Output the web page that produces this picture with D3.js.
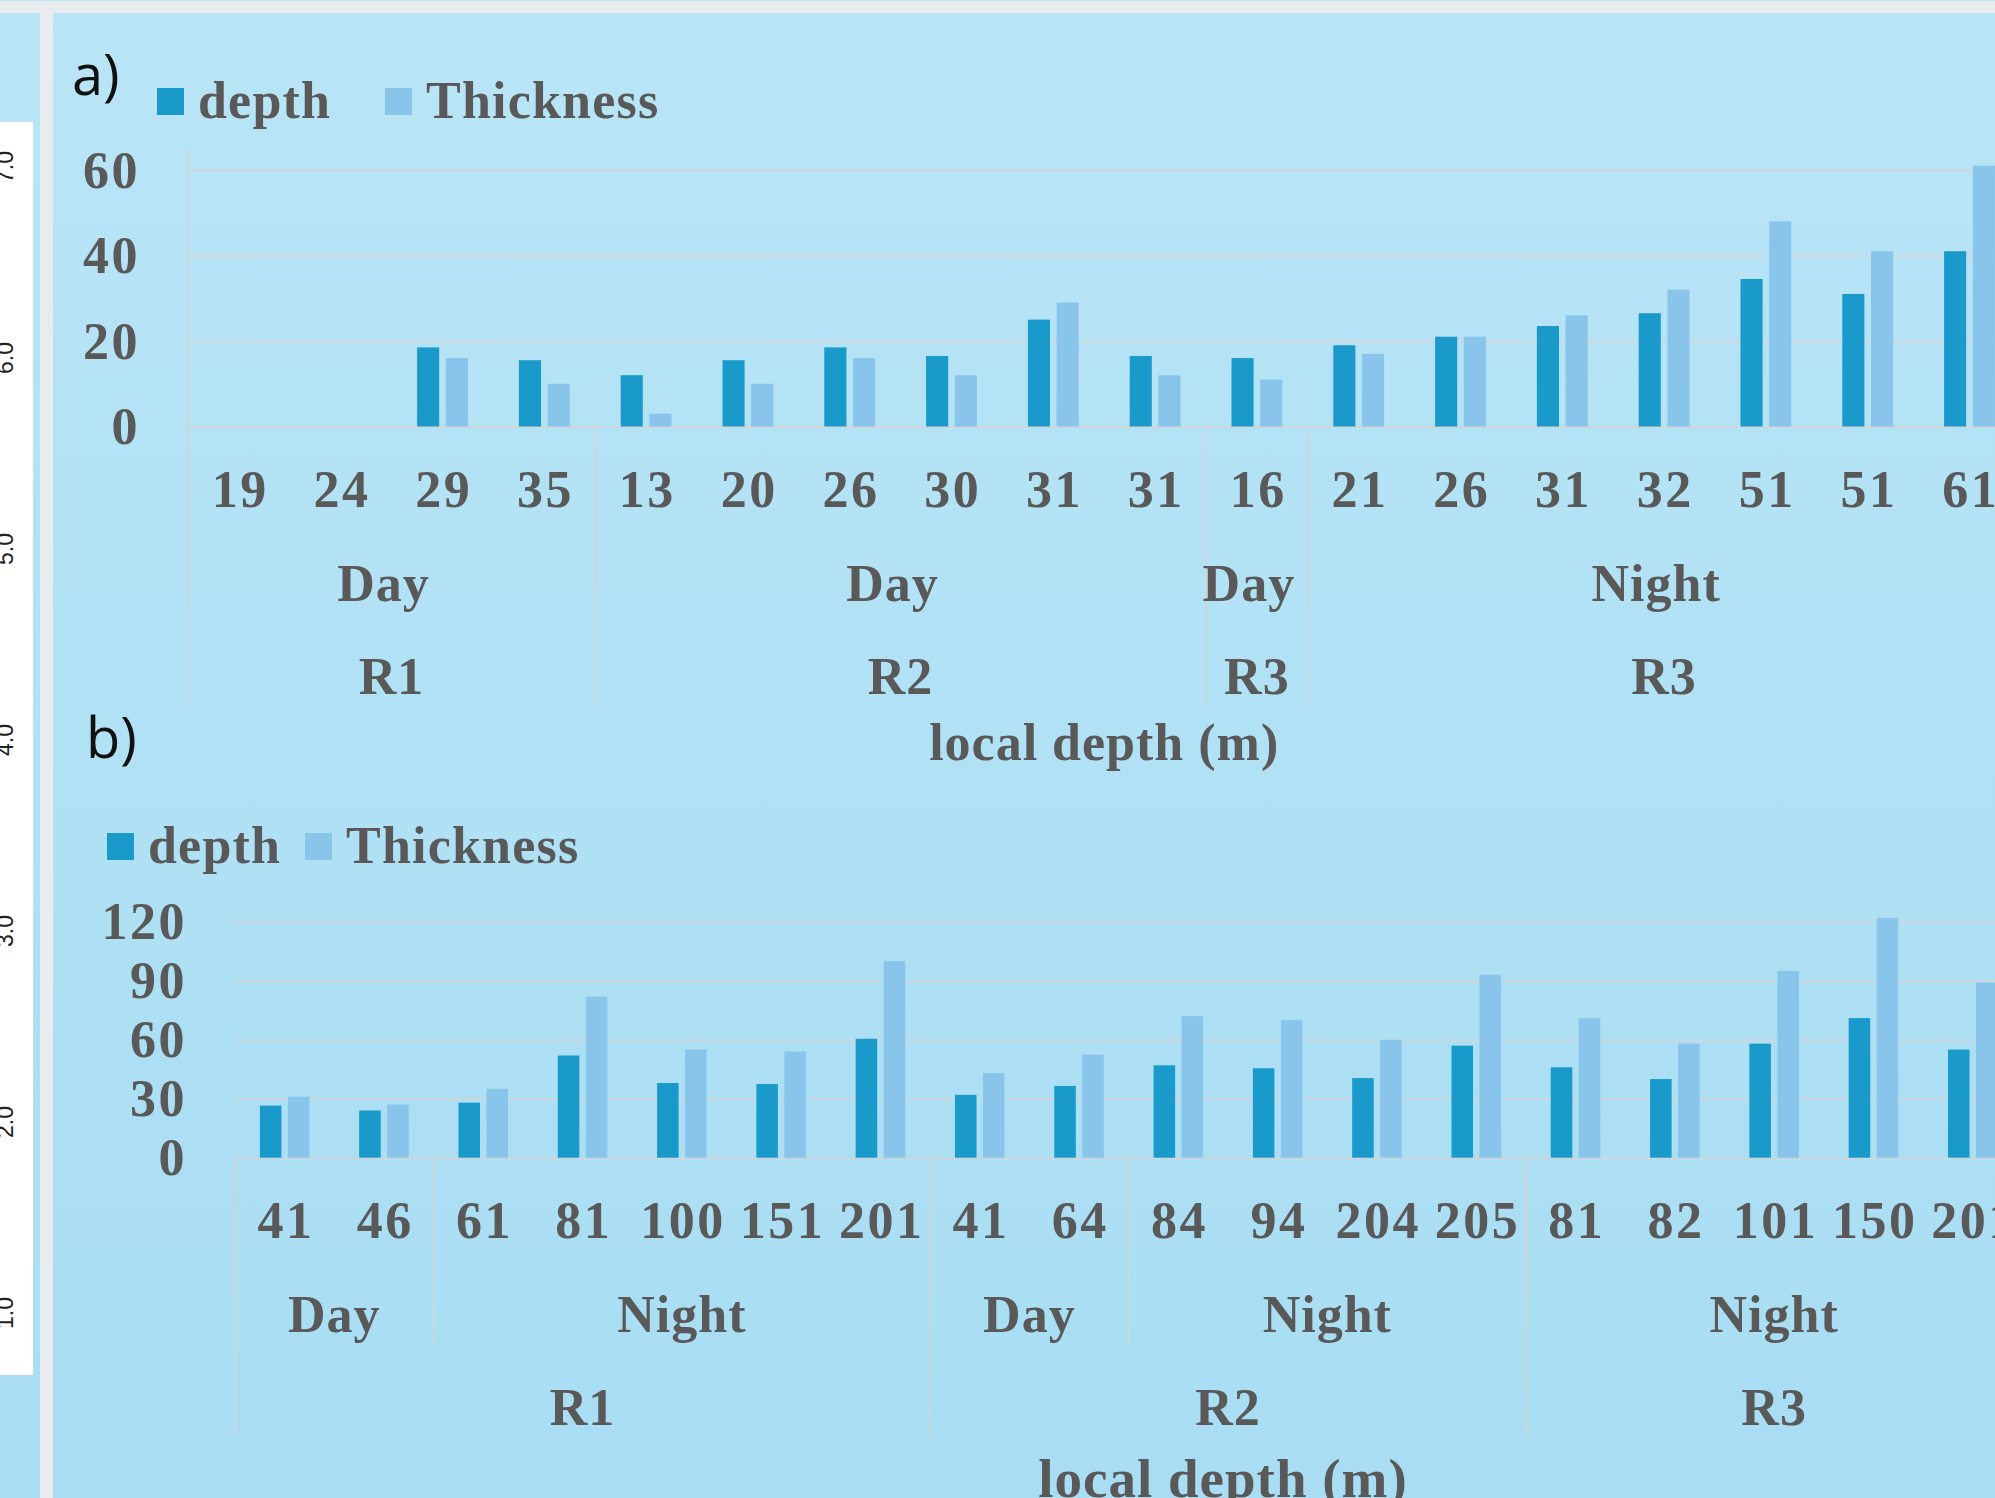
<!DOCTYPE html>
<html>
<head>
<meta charset="utf-8">
<script src="https://cdn.jsdelivr.net/npm/d3@7"></script>
<style>
  html, body { margin: 0; padding: 0; overflow: hidden; background: #b9e5f5; }
  svg { display: block; }
</style>
</head>
<body>
<svg id="fig" width="1995" height="1498"></svg>
<script>
// ---------- data: panel a ----------
const aLabels = ["19","24","29","35","13","20","26","30","31","31","16","21","26","31","32","51","51","61"];
const aDepth = [null,null,18.5,15.5,12,15.5,18.5,16.5,25,16.5,16,19,21,23.5,26.5,34.5,31,41];
const aThickness = [null,null,16,10,3,10,16,12,29,12,11,17,21,26,32,48,41,61];
const aPeriods = ["Day","Day","Day","Night"];
const aPeriodSpans = [4,6,1,7];
const aRegions = ["R1","R2","R3","R3"];
const aRegionSpans = [4,6,1,7];
const aYTicks = [0,20,40,60];

// ---------- data: panel b ----------
const bLabels = ["41","46","61","81","100","151","201","41","64","84","94","204","205","81","82","101","150","201"];
const bDepth = [26.5,24,28,52,38,37.5,60.5,32,36.5,47,45.5,40.5,57,46,40,58,71,55];
const bThickness = [31,27,35,82,55,54,100,43,52.5,72,70,60,93,71,58,95,122,89];
const bPeriods = ["Day","Night","Day","Night","Night"];
const bPeriodSpans = [2,5,2,4,5];
const bRegions = ["R1","R2","R3"];
const bRegionSpans = [7,6,5];
const bYTicks = [0,30,60,90,120];

// ---------- data: neighbouring axis strip ----------
const stripTicks = ["7.0","6.0","5.0","4.0","3.0","2.0","1.0"];

const seriesNames = ["depth","Thickness"];
const seriesColors = ["#1a9acb","#89c4ea"];

const W = 1995, H = 1498;
const svg = d3.select("#fig");
const textColor = "#595959";
const lineColor = "#cdd6da";
const serif = "'Liberation Serif', 'Times New Roman', serif";

// background
const defs = svg.append("defs");
const grad = defs.append("linearGradient").attr("id","bg").attr("x1",0).attr("y1",0).attr("x2",0).attr("y2",1);
grad.append("stop").attr("offset","0%").attr("stop-color","#b9e5f6");
grad.append("stop").attr("offset","100%").attr("stop-color","#a8ddf3");
svg.append("rect").attr("width",W).attr("height",H).attr("fill","url(#bg)");

// frame: top band and left divider
svg.append("rect").attr("x",0).attr("y",1).attr("width",W).attr("height",12).attr("fill","#e9ecee");
svg.append("rect").attr("x",40).attr("y",1).attr("width",13).attr("height",H).attr("fill","#e9ecee");

// white strip with rotated tick labels of the neighbouring chart
svg.append("rect").attr("x",0).attr("y",122).attr("width",33).attr("height",1253).attr("fill","#ffffff");
const stripY = d3.scaleLinear().domain([7,1]).range([167,1313]);
svg.append("g").selectAll("text").data(stripTicks).join("text")
  .attr("transform", d => `translate(13,${stripY(+d)}) rotate(-90)`)
  .attr("text-anchor","middle")
  .attr("font-family","'Liberation Sans', Arial, sans-serif")
  .attr("font-size",23)
  .attr("fill","#222")
  .text(d => d);

function spansToGroups(names, spans) {
  let start = 0;
  return names.map((n, k) => { const g = {name: n, start, n: spans[k]}; start += spans[k]; return g; });
}

function drawPanel(cfg) {
  const g = svg.append("g");
  const n = cfg.labels.length;
  const x = d3.scaleBand().domain(d3.range(n)).range([cfg.left, cfg.left + cfg.band * n]).padding(0);
  const y = d3.scaleLinear().domain([0, cfg.yMax]).range([cfg.base, cfg.top]);
  const bw = x.bandwidth();
  const barW = bw * 0.217, gap = bw * 0.065;
  const sub = d3.scaleOrdinal().domain(seriesNames).range([bw/2 - gap/2 - barW, bw/2 + gap/2]);
  const plotW = cfg.band * n;

  // gridlines + value labels
  const yAxis = d3.axisLeft(y).tickValues(cfg.yTicks).tickSize(-plotW).tickPadding(48).tickFormat(d3.format("d"));
  const ax = g.append("g").attr("transform", `translate(${cfg.left},0)`).call(yAxis);
  ax.select(".domain").remove();
  ax.selectAll(".tick line").attr("stroke", lineColor).attr("stroke-width", 2);
  ax.selectAll(".tick text")
    .attr("font-family", serif).attr("font-weight","bold").attr("font-size",52)
    .attr("letter-spacing", 2.5).attr("fill", textColor).attr("dy","0.33em");

  // bars
  const series = [cfg.depth, cfg.thickness];
  series.forEach((vals, s) => {
    g.append("g").selectAll("rect")
      .data(vals.map((v, i) => ({i, v})).filter(d => d.v != null))
      .join("rect")
      .attr("x", d => x(d.i) + sub(seriesNames[s]))
      .attr("width", barW)
      .attr("y", d => y(d.v))
      .attr("height", d => y(0) - y(d.v))
      .attr("fill", seriesColors[s]);
  });

  // category axis: left line
  g.append("line").attr("x1",cfg.left).attr("x2",cfg.left)
    .attr("y1",cfg.axisTop).attr("y2",cfg.longSepEnd)
    .attr("stroke",lineColor).attr("stroke-width",2);

  // level 0 labels
  g.append("g").selectAll("text").data(cfg.labels).join("text")
    .attr("x", (d, i) => x(i) + bw/2 + 1.25)
    .attr("y", cfg.level0)
    .attr("text-anchor","middle")
    .attr("font-family", serif).attr("font-weight","bold").attr("font-size",52)
    .attr("letter-spacing", 2.5).attr("fill", textColor)
    .text(d => d);

  const periods = spansToGroups(cfg.periods, cfg.periodSpans);
  const regions = spansToGroups(cfg.regions, cfg.regionSpans);
  const regionStarts = new Set(regions.map(r => r.start));

  // separators
  periods.filter(p => p.start > 0).forEach(p => {
    const xx = x(p.start);
    g.append("line").attr("x1",xx).attr("x2",xx).attr("y1",cfg.base)
      .attr("y2", regionStarts.has(p.start) ? cfg.longSepEnd : cfg.shortSepEnd)
      .attr("stroke",lineColor).attr("stroke-width",2);
  });

  const groupLabel = (data, baseline, dx) => g.append("g").selectAll("text").data(data).join("text")
    .attr("x", d => x(d.start) + d.n * bw / 2 + dx)
    .attr("y", baseline)
    .attr("text-anchor","middle")
    .attr("font-family", serif).attr("font-weight","bold").attr("font-size",52)
    .attr("letter-spacing", 1).attr("fill", textColor)
    .text(d => d.name);
  groupLabel(periods, cfg.level1, cfg.level1Shift);
  groupLabel(regions, cfg.level2, 0);

  // axis title
  g.append("text")
    .attr("x", cfg.titleX != null ? cfg.titleX : cfg.left + plotW / 2)
    .attr("y", cfg.titleY)
    .attr("text-anchor","middle")
    .attr("font-family", serif).attr("font-weight","bold").attr("font-size",cfg.titleSize)
    .attr("letter-spacing", 1).attr("fill", textColor)
    .text("local depth (m)");

  // panel tag
  g.append("text").attr("x", cfg.tagX).attr("y", cfg.tagY)
    .attr("font-family","'Open Sans', 'Noto Sans', sans-serif").attr("font-size",56)
    .attr("fill","#111").text(cfg.tag);

  // legend
  const leg = g.append("g");
  seriesNames.forEach((name, s) => {
    leg.append("rect").attr("x", cfg.legendX[s]).attr("y", cfg.legendY)
      .attr("width", 27).attr("height", 27).attr("fill", seriesColors[s]);
    leg.append("text").attr("x", cfg.legendX[s] + 41).attr("y", cfg.legendY + 30)
      .attr("font-family", serif).attr("font-weight","bold").attr("font-size",52)
      .attr("letter-spacing", 1.2).attr("fill", textColor).text(name);
  });
}

drawPanel({
  labels: aLabels, depth: aDepth, thickness: aThickness,
  periods: aPeriods, periodSpans: aPeriodSpans, regions: aRegions, regionSpans: aRegionSpans,
  yMax: 60, yTicks: aYTicks,
  left: 188, band: 101.8, top: 170, base: 426.5, axisTop: 149,
  level0: 507, level1: 601, level2: 694, level1Shift: -8, shortSepEnd: 705, longSepEnd: 705,
  titleX: null, titleY: 760, titleSize: 52,
  tag: "a)", tagX: 72, tagY: 95,
  legendX: [157, 385], legendY: 88
});

drawPanel({
  labels: bLabels, depth: bDepth, thickness: bThickness,
  periods: bPeriods, periodSpans: bPeriodSpans, regions: bRegions, regionSpans: bRegionSpans,
  yMax: 120, yTicks: bYTicks,
  left: 235, band: 99.3, top: 921.8, base: 1157.7, axisTop: 1157.7,
  level0: 1238, level1: 1332, level2: 1425, level1Shift: 0, shortSepEnd: 1344, longSepEnd: 1437,
  titleX: 1223, titleY: 1497, titleSize: 55,
  tag: "b)", tagX: 86, tagY: 758,
  legendX: [107, 305], legendY: 833
});
</script>
</body>
</html>
